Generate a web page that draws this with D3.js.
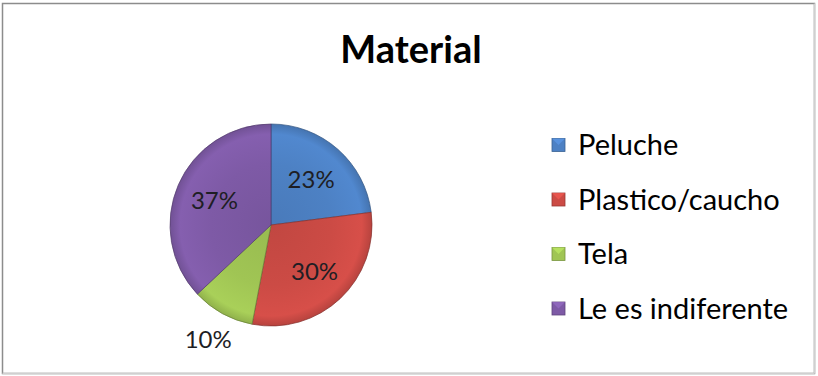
<!DOCTYPE html>
<html><head><meta charset="utf-8">
<script src="https://cdn.jsdelivr.net/npm/d3@7"></script>
<style>body{margin:0;background:#fff}svg{display:block}</style>
</head><body>
<script>
const categories = ["Peluche", "Plastico/caucho", "Tela", "Le es indiferente"];
const values = [23, 30, 10, 37];
const labels = ["23%", "30%", "10%", "37%"];
const colors = ["#4d81c4", "#cc4b45", "#a0c554", "#7e5aa6"];
const title = "Material";

const W = 818, H = 376;
const svg = d3.select("body").append("svg").attr("width", W).attr("height", H);
const FONT = "Lato, 'Open Sans', sans-serif";

svg.append("rect").attr("x", 2.5).attr("y", 3.5).attr("width", 812).attr("height", 370)
  .attr("fill", "#fff").attr("stroke", "#8c8c8c").attr("stroke-width", 1.5);
svg.append("line").attr("x1", 814.5).attr("x2", 814.5).attr("y1", 3.5).attr("y2", 373.5).attr("stroke", "#d0d0d0").attr("stroke-width", 1.5);
svg.append("line").attr("x1", 2.5).attr("x2", 814.5).attr("y1", 373.5).attr("y2", 373.5).attr("stroke", "#d0d0d0").attr("stroke-width", 1.5);

svg.append("text").attr("x", 411).attr("y", 63).attr("text-anchor", "middle")
  .attr("font-family", FONT).attr("font-weight", "bold").attr("font-size", 38)
  .attr("fill", "#000").text(title);

const cx = 271, cy = 225, R = 101;
const defs = svg.append("defs");
colors.forEach((c, i) => {
  const g = defs.append("radialGradient").attr("id", "g" + i)
    .attr("gradientUnits", "userSpaceOnUse").attr("cx", 0).attr("cy", 0).attr("r", R);
  const base = d3.color(c);
  g.append("stop").attr("offset", "0%").attr("stop-color", base.darker(0.15));
  g.append("stop").attr("offset", "60%").attr("stop-color", base);
  g.append("stop").attr("offset", "90%").attr("stop-color", base.brighter(0.15));
  g.append("stop").attr("offset", "100%").attr("stop-color", base.darker(0.3));
});

const pie = d3.pie().sort(null).value(d => d)(values);
const arc = d3.arc().innerRadius(0).outerRadius(R);
const gp = svg.append("g").attr("transform", `translate(${cx},${cy})`);
gp.selectAll("path.slice").data(pie).join("path").attr("class", "slice")
  .attr("d", arc)
  .attr("fill", (d, i) => `url(#g${i})`)
  .attr("stroke", (d, i) => d3.color(colors[i]).darker(1.2)).attr("stroke-opacity", 0.7).attr("stroke-width", 1);

const labelR = [0.6, 0.63, 1.29, 0.61];
gp.selectAll("text").data(pie).join("text")
  .attr("transform", (d, i) => {
    const a = (d.startAngle + d.endAngle) / 2, r = R * labelR[i];
    return `translate(${r * Math.sin(a)},${-r * Math.cos(a)})`;
  })
  .attr("text-anchor", "middle").attr("dy", "0.36em")
  .attr("font-family", FONT).attr("font-size", 24).attr("fill", "#1e1e24")
  .text((d, i) => labels[i]);

const lg = svg.append("g");
categories.forEach((c, i) => {
  const y = 145 + i * 54.5;
  const base = d3.color(colors[i]);
  lg.append("rect").attr("x", 552).attr("y", y - 6.5).attr("width", 13).attr("height", 13)
    .attr("fill", colors[i]).attr("stroke", base.darker(0.8)).attr("stroke-width", 0.8);
  lg.append("path").attr("d", `M${552},${y - 6.5}L${558.5},${y}L${565},${y - 6.5}Z`)
    .attr("fill", base.brighter(0.5)).attr("opacity", 0.7);
  lg.append("text").attr("x", 578).attr("y", y).attr("dy", "0.35em")
    .attr("font-family", FONT).attr("font-size", 29).attr("fill", "#000").text(c);
});
</script>
</body></html>
